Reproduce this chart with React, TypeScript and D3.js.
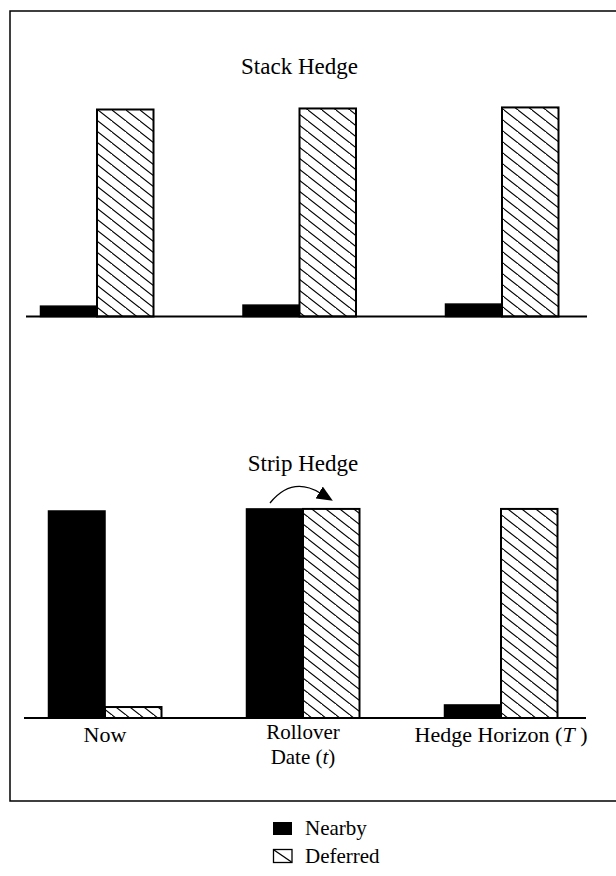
import React from "react";
import * as d3 from "d3";

const categories = ["Now", "Rollover Date (t)", "Hedge Horizon (T)"];
const stackNearby = [5, 5.5, 6];
const stackDeferred = [100, 100.5, 101];
const stripNearby = [100, 101, 6.3];
const stripDeferred = [5.3, 101, 101];
const panelTitles = ["Stack Hedge", "Strip Hedge"];
const legendLabels = ["Nearby", "Deferred"];

const W = 616;
const H = 876;
const FONT = "'Liberation Serif', 'Times New Roman', serif";
const BAR_W = 56.5;

const yScale = d3.scaleLinear().domain([0, 100]).range([0, 207]);

type Panel = {
  title: string;
  nearby: number[];
  deferred: number[];
  baseline: number;
  xRange: [number, number];
  axis: [number, number];
  titleY: number;
};

const panels: Panel[] = [
  { title: panelTitles[0], nearby: stackNearby, deferred: stackDeferred, baseline: 316.5, xRange: [97, 502], axis: [26, 587], titleY: 74 },
  { title: panelTitles[1], nearby: stripNearby, deferred: stripDeferred, baseline: 718, xRange: [105, 501], axis: [24, 586], titleY: 471 },
];

function PanelView({ p, showLabels }: { p: Panel; showLabels: boolean }) {
  const x = d3.scalePoint<string>().domain(categories).range(p.xRange);
  const mid = x(categories[1])!;
  return (
    <g>
      <text x={mid} y={p.titleY} textAnchor="middle" fontFamily={FONT} fontSize={23}>
        {p.title}
      </text>
      {categories.map((c, i) => {
        const cx = x(c)!;
        const hn = yScale(p.nearby[i]);
        const hd = yScale(p.deferred[i]);
        return (
          <g key={c}>
            <rect x={cx - BAR_W} y={p.baseline - hn} width={BAR_W} height={hn} fill="#000" stroke="#000" strokeWidth={1.5} />
            <rect x={cx} y={p.baseline - hd} width={BAR_W} height={hd} fill="url(#hatch)" stroke="#000" strokeWidth={2} />
          </g>
        );
      })}
      <line x1={p.axis[0]} x2={p.axis[1]} y1={p.baseline} y2={p.baseline} stroke="#000" strokeWidth={2} />
      {showLabels && (
        <g fontFamily={FONT} fontSize={22} textAnchor="middle">
          <text x={x(categories[0])!} y={p.baseline + 24}>Now</text>
          <text x={mid} y={p.baseline + 21} fontSize={21}>Rollover</text>
          <text x={mid} y={p.baseline + 46} fontSize={21}>
            Date (<tspan fontStyle="italic">t</tspan>)
          </text>
          <text x={x(categories[2])!} y={p.baseline + 24}>
            Hedge Horizon (<tspan fontStyle="italic">T</tspan> )
          </text>
        </g>
      )}
    </g>
  );
}

export default function App() {
  const arrowPath = d3.path();
  arrowPath.moveTo(270, 503);
  arrowPath.quadraticCurveTo(292, 476, 320, 493);
  return (
    <svg width={W} height={H} style={{ position: "absolute", left: 0, top: 0, background: "#fff" }}>
      <defs>
        <pattern id="hatch" patternUnits="userSpaceOnUse" width={14} height={11}>
          <rect width={14} height={11} fill="#fff" />
          <path d="M-2,-1.571 L16,12.571 M-16,-1.571 L2,12.571" stroke="#000" strokeWidth={1.1} />
        </pattern>
        <marker id="ah" viewBox="0 0 16 14" refX={1} refY={7} markerWidth={16} markerHeight={14} markerUnits="userSpaceOnUse" orient="auto">
          <path d="M0,0 L16,7 L0,14 Z" fill="#000" />
        </marker>
      </defs>
      <rect width={W} height={H} fill="#fff" />
      <path d="M616,11 L10,11 L10,801 L616,801" fill="none" stroke="#000" strokeWidth={1.5} />
      <PanelView p={panels[0]} showLabels={false} />
      <PanelView p={panels[1]} showLabels={true} />
      <path d={arrowPath.toString()} fill="none" stroke="#000" strokeWidth={1.3} markerEnd="url(#ah)" />
      <g fontFamily={FONT} fontSize={21}>
        <rect x={273} y={822} width={19} height={13} fill="#000" />
        <text x={305} y={835}>{legendLabels[0]}</text>
        <rect x={273.5} y={849.5} width={18.5} height={13} fill="#fff" stroke="#000" strokeWidth={1.3} />
        <line x1={274} y1={850} x2={291.5} y2={862} stroke="#000" strokeWidth={1.3} />
        <text x={305} y={863}>{legendLabels[1]}</text>
      </g>
    </svg>
  );
}
